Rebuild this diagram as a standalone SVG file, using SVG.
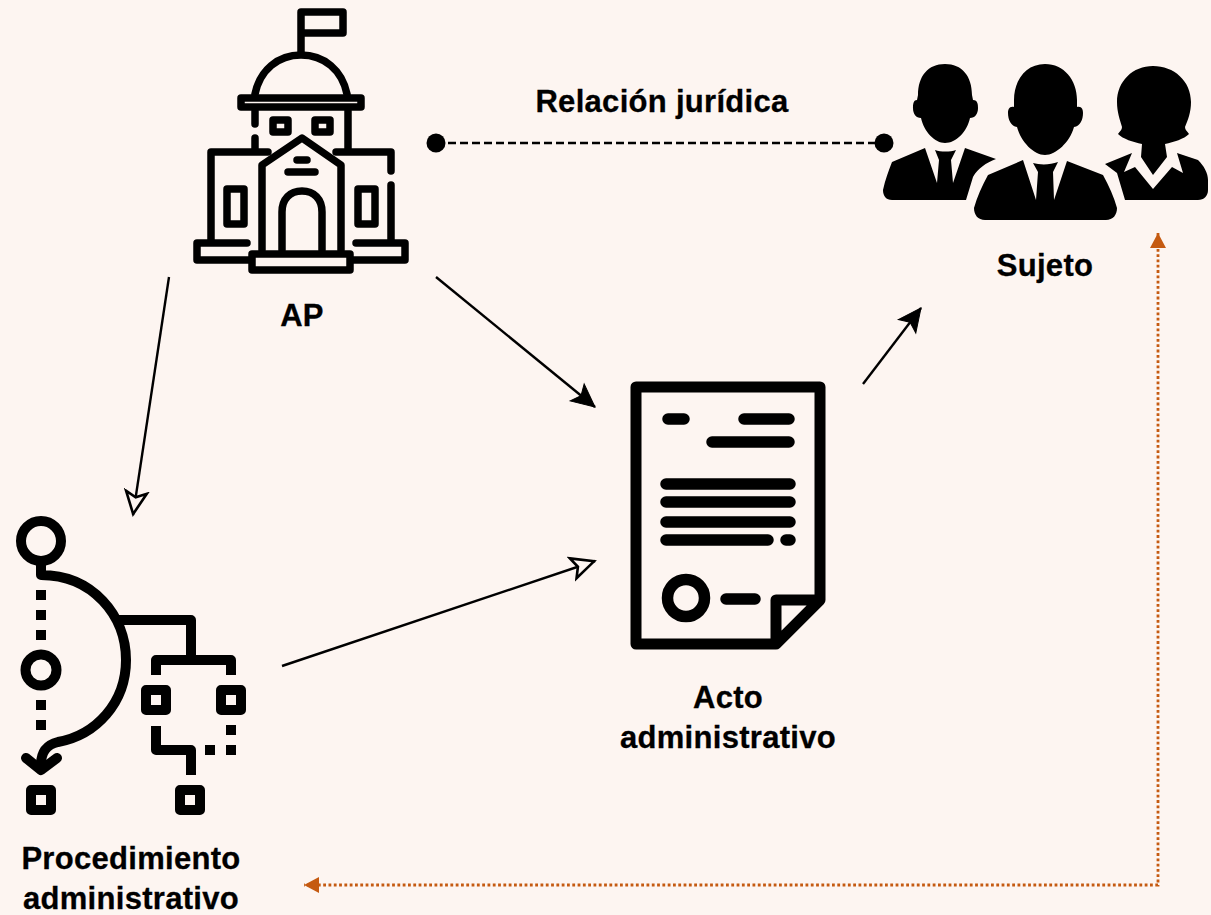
<svg xmlns="http://www.w3.org/2000/svg" width="1211" height="915" viewBox="0 0 1211 915">
<defs>
<marker id="fill" markerUnits="userSpaceOnUse" markerWidth="30" markerHeight="28" refX="23" refY="12" orient="auto" viewBox="-2 -2 30 28"><path d="M0 1 L23 12 L0 23 L5 12 Z" fill="#000" stroke="#000" stroke-width="1"/></marker>
<marker id="open" markerUnits="userSpaceOnUse" markerWidth="30" markerHeight="28" refX="23" refY="12" orient="auto" viewBox="-2 -2 30 28"><path d="M0 1.5 L22 12 L0 22.5 L5 12 Z" fill="#fdf5f1" stroke="#000" stroke-width="2.6"/></marker>
<marker id="or" markerUnits="userSpaceOnUse" markerWidth="20" markerHeight="20" refX="16" refY="8" orient="auto-start-reverse" viewBox="0 0 20 16"><path d="M1 0 L16 8 L1 16 Z" fill="#c55a11"/></marker>
</defs>
<style>
text{font-family:"Liberation Sans",Arial,sans-serif;font-weight:700;font-size:31px;letter-spacing:.3px;fill:#000;stroke:#000;stroke-width:.3px;text-anchor:middle}
.i{fill:none;stroke:#000;stroke-width:7.5;stroke-linecap:round;stroke-linejoin:round}
.p{fill:none;stroke:#000;stroke-width:10;stroke-linejoin:round}
.d{fill:none;stroke:#000;stroke-width:11.5;stroke-linecap:round;stroke-linejoin:round}
.c{fill:none;stroke:#000;stroke-width:2.4}
</style>
<rect width="1211" height="915" fill="#fdf5f1"/>
<g id="connectors">
<path class="c" d="M169 277 L133 515" marker-end="url(#open)"/>
<path class="c" d="M436 277 L595 407" marker-end="url(#fill)"/>
<path class="c" d="M863 384 L921 308" marker-end="url(#fill)"/>
<path class="c" d="M282 666 L595 561" marker-end="url(#open)"/>
<path d="M436 143 H884" fill="none" stroke="#000" stroke-width="2.4" stroke-dasharray="8 4"/>
<circle cx="436" cy="143" r="9.5"/><circle cx="884" cy="143" r="9.5"/>
<path d="M1158 233 V885 H304" fill="none" stroke="#c55a11" stroke-width="2.8" stroke-dasharray="2.8 2.5" marker-start="url(#or)" marker-end="url(#or)"/>
</g>
<g id="ap">
<g class="i">
<path d="M301 52 V12 H343 V33 H301"/>
<path d="M255 94 C260 70 278 55 301 55 C324 55 342 70 347 94"/>
<rect x="241" y="98" width="120" height="9"/>
<path d="M255 111 V124 M255 138 V150 M348 111 V150"/>
<rect x="273" y="120" width="15" height="12"/><rect x="315" y="120" width="15" height="12"/>
<path d="M268 152 H211 V240 M336 152 H391 V171 M391 185 V240"/>
<rect x="227" y="189" width="17" height="35"/><rect x="358" y="189" width="17" height="35"/>
<path d="M262 250 V165 L302 138 L341 165 V250"/>
<path d="M297 160 H307 M288 172 H315"/>
<path d="M282 250 V212 C282 199 290 191 302 191 C314 191 322 199 322 212 V250"/>
<path d="M247 243 H197 V260 H250 M356 243 H405 V260 H352"/>
<rect x="252" y="254" width="98" height="16"/>
</g>
<text x="302" y="326">AP</text>
</g>
<g id="sujeto">
<path d="M945 64 C928 64 918 76 918 95 L917 100 C913 100 913 105 913 108 C913 114 916 118 921 118 C924 132 935 143 945 143 C956 143 967 132 970 118 C975 118 978 114 978 108 C978 105 978 100 973 100 L972 95 C972 76 962 64 945 64 Z"/>
<path d="M925 148 L892 162 C889 170 885 180 883 190 C883 196 886 200 892 200 H966 L973 177 C978 168 986 163 996 159 L965 148 L953 183 L951 160 L956 150 C950 152 941 152 935 150 L939 160 L937 183 Z"/>
<path d="M1045 64 C1026 64 1014 80 1014 100 V107 C1009 106 1008 110 1008 113 C1008 120 1011 126 1017 127 C1021 142 1034 155 1045 155 C1056 155 1070 142 1074 127 C1080 126 1083 120 1083 113 C1083 110 1082 106 1077 107 V100 C1077 80 1064 64 1045 64 Z"/>
<path d="M1023 160 L988 175 C982 186 977 197 974 208 C974 215 978 220 985 220 H1106 C1113 220 1117 215 1117 208 C1114 197 1109 186 1103 175 L1067 161 L1054 200 L1053 172 L1058 162 C1050 165 1040 165 1033 163 L1038 172 L1036 200 Z"/>
<path d="M1153 66 C1133 66 1117 81 1117 102 C1117 112 1120 120 1122 127 C1122 130 1120 131 1118 134 C1123 139 1133 142 1142 144 L1141 157 L1153 175 L1167 157 L1165 144 C1174 142 1184 139 1189 134 C1187 131 1185 130 1185 127 C1188 120 1191 112 1191 102 C1191 81 1174 66 1153 66 Z"/>
<path d="M1105 164 L1132 153 L1124 172 L1135 167 L1153 189 L1172 167 L1183 173 L1177 153 L1198 160 C1204 166 1208 173 1208 180 V190 C1208 196 1204 200 1198 200 H1125 L1117 173 Z"/>
<text x="1045" y="276">Sujeto</text>
</g>
<g id="acto">
<path d="M636 387 H820 V600 L776 644 H636 Z M776 644 V600 H820" fill="none" stroke="#000" stroke-width="11" stroke-linejoin="round"/>
<g class="d">
<path d="M668 419 H684 M744 419 H789 M712 442 H789 M666 484 H790 M666 502 H790 M666 522 H790 M666 540 H768 M786 540 H790 M726 599 H755"/>
<circle cx="686" cy="598" r="18.5"/>
</g>
<text x="728" y="708">Acto</text><text x="728" y="748">administrativo</text>
</g>
<g id="procedimiento">
<g class="p">
<circle cx="41" cy="541" r="20"/><circle cx="41" cy="670" r="15.5"/>
<path d="M41 562 V575 C92 575 126 615 126 660 C126 703 96 735 58 742 C46 745 41 752 41 765"/>
<path d="M26 758 L41 770 L57 758" stroke-linecap="round"/>
<path d="M118 620 H191 V660 M156 675 V660 H231 V675 M156 726 V750 H191 V775"/>
<rect x="31" y="790" width="20" height="20"/><rect x="180" y="790" width="20" height="20"/>
<rect x="146" y="690" width="20" height="20"/><rect x="221" y="690" width="20" height="20"/>
</g>
<path d="M36 590h10v10h-10zM36 610h10v10h-10zM36 630h10v10h-10zM36 700h10v10h-10zM36 720h10v10h-10zM226 725h10v10h-10zM226 745h10v10h-10zM205 745h10v10h-10z"/>
<text x="131" y="869">Procedimiento</text><text x="131" y="909">administrativo</text>
</g>
<text x="662" y="112">Relación jurídica</text>
</svg>
